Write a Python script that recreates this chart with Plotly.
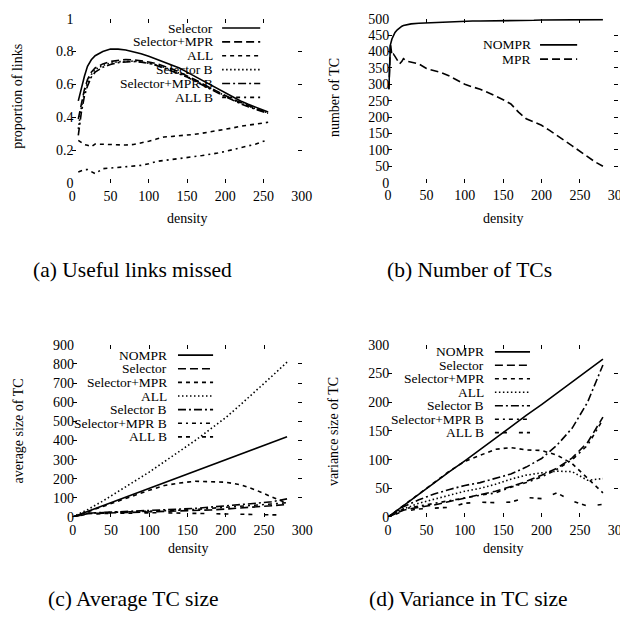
import plotly.graph_objects as go

# reference pixel positions are mapped onto the figure with the scale/offset
# observed in the screenshots of earlier runs
SC = 0.975
OX, OY = 12.5, 13.5
FW, FH = 632, 626
FONT = "Liberation Serif"
FS = 14
FS_KEY = 13.5

# ---- (a) useful links missed ----
a_density = [8, 12, 16, 20, 25, 30, 40, 50, 60, 70, 80, 90, 100, 110, 120, 130, 140,
             150, 160, 170, 180, 190, 200, 210, 220, 230, 240, 250, 256]
a_selector = [0.50, 0.58, 0.65, 0.71, 0.75, 0.775, 0.80, 0.815, 0.815, 0.81, 0.80, 0.787,
              0.772, 0.755, 0.738, 0.72, 0.70, 0.675, 0.65, 0.622, 0.595, 0.57, 0.545,
              0.522, 0.50, 0.48, 0.46, 0.44, 0.432]
a_selector_mpr = [0.39, 0.49, 0.57, 0.63, 0.675, 0.70, 0.725, 0.74, 0.748, 0.752, 0.75,
                  0.745, 0.737, 0.727, 0.712, 0.695, 0.675, 0.655, 0.63, 0.605, 0.58,
                  0.556, 0.533, 0.51, 0.49, 0.47, 0.453, 0.437, 0.43]
a_all = [0.26, 0.245, 0.235, 0.23, 0.222, 0.238, 0.236, 0.234, 0.232, 0.232, 0.235, 0.244,
         0.255, 0.268, 0.281, 0.284, 0.287, 0.29, 0.297, 0.304, 0.311, 0.318, 0.326, 0.336,
         0.346, 0.353, 0.36, 0.366, 0.37]
a_selector_b = [0.33, 0.46, 0.55, 0.61, 0.66, 0.69, 0.715, 0.73, 0.738, 0.742, 0.742,
                0.738, 0.73, 0.72, 0.705, 0.688, 0.668, 0.648, 0.624, 0.60, 0.576, 0.553,
                0.53, 0.507, 0.487, 0.468, 0.45, 0.435, 0.428]
a_selector_mpr_b = [0.29, 0.43, 0.53, 0.59, 0.645, 0.675, 0.705, 0.722, 0.733, 0.738, 0.74,
                    0.735, 0.728, 0.716, 0.70, 0.683, 0.664, 0.645, 0.62, 0.596, 0.572,
                    0.549, 0.526, 0.503, 0.483, 0.465, 0.447, 0.432, 0.425]
a_all_b = [0.068, 0.075, 0.082, 0.083, 0.07, 0.058, 0.088, 0.092, 0.095, 0.099, 0.104,
           0.108, 0.118, 0.132, 0.138, 0.143, 0.15, 0.157, 0.162, 0.168, 0.174, 0.183,
           0.193, 0.205, 0.215, 0.225, 0.238, 0.255, 0.263]

# ---- (b) number of TCs ----
b_density = [1, 2, 3, 5, 7, 9, 12, 15, 18, 20, 25, 30, 40, 50, 60, 70, 80, 90, 100, 110,
             120, 130, 140, 150, 160, 170, 180, 190, 200, 210, 220, 230, 240, 250, 260,
             270, 280]
b_nompr = [285, 390, 420, 438, 450, 458, 466, 472, 477, 479, 482, 484, 486, 487, 490, 491,
           491, 492, 492, 493, 493, 493, 494, 494, 494, 495, 495, 495, 496, 496, 496, 496,
           497, 497, 497, 497, 497]
b_mpr = [285, 410, 425, 388, 392, 385, 375, 362, 370, 378, 370, 368, 362, 348, 342, 335,
         325, 312, 300, 292, 285, 275, 265, 253, 240, 215, 195, 185, 175, 160, 145, 128,
         112, 95, 78, 63, 50]

# ---- (c) average TC size / (d) variance in TC size ----
cd_density = [0, 20, 40, 60, 80, 100, 120, 140, 160, 180, 200, 220, 240, 260, 280]
c_nompr = [0, 30, 60, 90, 120, 150, 180, 210, 240, 270, 300, 330, 360, 390, 420]
c_selector = [0, 18, 20, 22, 24, 25, 27, 30, 33, 37, 42, 48, 54, 60, 65]
c_selector_mpr = [0, 28, 57, 85, 115, 140, 165, 178, 187, 186, 182, 168, 140, 105, 72]
c_all = [0, 40, 85, 135, 185, 235, 290, 345, 400, 460, 520, 590, 660, 735, 810]
c_selector_b = [0, 20, 24, 27, 30, 33, 36, 40, 45, 52, 58, 65, 72, 80, 95]
c_selector_mpr_b = [0, 20, 23, 25, 28, 30, 33, 36, 40, 45, 50, 56, 62, 68, 75]
c_all_b = [0, 15, 18, 20, 21, 22, 22, 21, 20, 19, 17, 15, 13, 11, 10]

d_nompr = [0, 20, 39, 59, 79, 98, 118, 138, 157, 177, 196, 216, 236, 255, 275]
d_selector = [0, 12, 17, 21, 27, 33, 40, 45, 53, 62, 73, 85, 103, 130, 174]
d_selector_mpr = [0, 20, 40, 60, 80, 97, 108, 118, 121, 117, 116, 108, 93, 68, 42]
d_all = [0, 14, 24, 31, 38, 45, 50, 57, 66, 73, 77, 80, 79, 64, 67]
d_selector_b = [0, 18, 30, 40, 48, 55, 60, 67, 75, 87, 102, 125, 155, 200, 265]
d_selector_mpr_b = [0, 14, 19, 24, 29, 34, 38, 42, 52, 60, 70, 83, 100, 125, 170]
d_all_b = [0, 10, 14, 15, 17, 24, 26, 25, 26, 34, 32, 42, 28, 19, 22]

# gnuplot-like line types
LT = ["solid", "8px,4px", "4px,4px", "1.5px,2.5px", "8px,3px,2px,3px",
      "4px,4px,2px,4px", "4px,4px,4px,12px"]
LW = 1.6


def px(x):
    return min(max((x - OX) / SC / FW, 0), 1)


def py(y):
    return min(max(1 - (y - OY) / SC / FH, 0), 0.994)


panels = [
    dict(s="", xr=(72.5, 301.5), yr=(181.5, 9), yrange=[0, 1], dtick=0.2,
         ytitle="proportion of links", caption="(a) Useful links missed",
         cap_x=133, cap_y=268, xt_y=217,
         series=[("Selector", a_density, a_selector),
                 ("Selector+MPR", a_density, a_selector_mpr),
                 ("ALL", a_density, a_all),
                 ("Selector B", a_density, a_selector_b),
                 ("Selector+MPR B", a_density, a_selector_mpr_b),
                 ("ALL B", a_density, a_all_b)],
         leg=dict(tx=215, s0=222, s1=260, y0=26.5, dy=13.86)),
    dict(s="2", xr=(387.5, 617), yr=(181, 10), yrange=[0, 500], dtick=50,
         ytitle="number of TC", caption="(b) Number of TCs",
         cap_x=469, cap_y=268, xt_y=217,
         series=[("NOMPR", b_density, b_nompr),
                 ("MPR", b_density, b_mpr)],
         leg=dict(tx=532, s0=539, s1=576, y0=43.3, dy=14.3)),
    dict(s="3", xr=(73, 302), yr=(515, 343), yrange=[0, 900], dtick=100,
         ytitle="average size of TC", caption="(c) Average TC size",
         cap_x=134, cap_y=597, xt_y=546,
         series=[("NOMPR", cd_density, c_nompr),
                 ("Selector", cd_density, c_selector),
                 ("Selector+MPR", cd_density, c_selector_mpr),
                 ("ALL", cd_density, c_all),
                 ("Selector B", cd_density, c_selector_b),
                 ("Selector+MPR B", cd_density, c_selector_mpr_b),
                 ("ALL B", cd_density, c_all_b)],
         leg=dict(tx=169, s0=178, s1=213, y0=353.3, dy=13.6)),
    dict(s="4", xr=(387.5, 617), yr=(515, 343), yrange=[0, 300], dtick=50,
         ytitle="variance size of TC", caption="(d) Variance in TC size",
         cap_x=468, cap_y=597, xt_y=546,
         series=[("NOMPR", cd_density, d_nompr),
                 ("Selector", cd_density, d_selector),
                 ("Selector+MPR", cd_density, d_selector_mpr),
                 ("ALL", cd_density, d_all),
                 ("Selector B", cd_density, d_selector_b),
                 ("Selector+MPR B", cd_density, d_selector_mpr_b),
                 ("ALL B", cd_density, d_all_b)],
         leg=dict(tx=485, s0=494, s1=529, y0=350, dy=13.45)),
]

fig = go.Figure()
layout = dict(width=FW, height=FH, margin=dict(l=0, r=0, t=0, b=0, pad=0),
              paper_bgcolor="white", plot_bgcolor="white", showlegend=False,
              font=dict(family=FONT, size=FS, color="black"))
annotations = []
shapes = []

for p in panels:
    s = p["s"]
    for i, (name, xs, ys) in enumerate(p["series"]):
        fig.add_trace(go.Scatter(
            x=xs, y=ys, mode="lines", name=name,
            line=dict(color="black", width=LW, dash=LT[i]),
            xaxis="x" + s, yaxis="y" + s,
        ))
        # gnuplot-style key: right-aligned label, sample to the right
        ly = p["leg"]["y0"] + i * p["leg"]["dy"]
        annotations.append(dict(
            text=name, x=px(p["leg"]["tx"]), y=py(ly), xref="paper", yref="paper",
            xanchor="right", yanchor="middle", showarrow=False,
            font=dict(family=FONT, size=FS_KEY, color="black"),
        ))
        shapes.append(dict(
            type="line", xref="paper", yref="paper",
            x0=px(p["leg"]["s0"]), x1=px(p["leg"]["s1"]), y0=py(ly), y1=py(ly),
            line=dict(color="black", width=LW, dash=LT[i]),
        ))

    axis_common = dict(showgrid=False, zeroline=False, showline=True,
                       linecolor="rgba(0,0,0,0)", linewidth=1,
                       ticks="inside", ticklen=4, tickwidth=1, tickcolor="black",
                       mirror="ticks", tickfont=dict(family=FONT, size=FS, color="black"))
    layout["xaxis" + s] = dict(axis_common, range=[0, 300], dtick=50, tick0=0,
                               domain=[px(p["xr"][0]), px(p["xr"][1])],
                               anchor="y" + s)
    layout["yaxis" + s] = dict(axis_common, range=p["yrange"], dtick=p["dtick"], tick0=0,
                               domain=[py(p["yr"][0]), py(p["yr"][1])],
                               anchor="x" + s, ticklabelstandoff=-5)

    xc = (p["xr"][0] + p["xr"][1]) / 2
    yc = (p["yr"][0] + p["yr"][1]) / 2
    annotations.append(dict(text="density", x=px(xc), y=py(p["xt_y"]),
                            xref="paper", yref="paper", showarrow=False,
                            xanchor="center", yanchor="middle",
                            font=dict(family=FONT, size=FS, color="black")))
    annotations.append(dict(text=p["ytitle"], x=px(p["xr"][0] - 54), y=py(yc),
                            xref="paper", yref="paper", showarrow=False, textangle=-90,
                            xanchor="center", yanchor="middle",
                            font=dict(family=FONT, size=FS, color="black")))
    annotations.append(dict(text=p["caption"], x=px(p["cap_x"]), y=py(p["cap_y"]),
                            xref="paper", yref="paper", showarrow=False,
                            xanchor="center", yanchor="middle",
                            font=dict(family=FONT, size=21.5, color="black")))

layout["annotations"] = annotations
layout["shapes"] = shapes
fig.update_layout(**layout)

fig.write_html("out.html")
